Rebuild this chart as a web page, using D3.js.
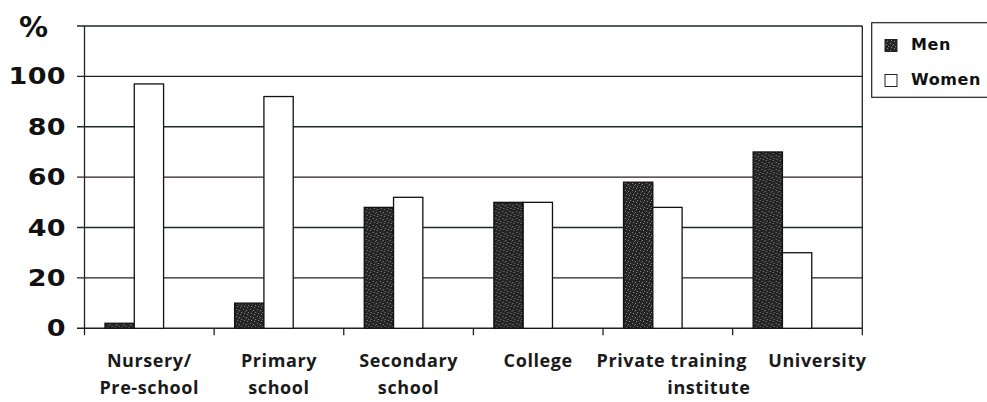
<!DOCTYPE html>
<html><head><meta charset="utf-8">
<script src="https://cdn.jsdelivr.net/npm/d3@7"></script>
<style>html,body{margin:0;padding:0;background:#fff;}svg{display:block;}</style>
</head><body>
<svg id="chart" width="987" height="402"></svg>
<script>
// ---- data ----
const categories = ["Nursery/Pre-school","Primary school","Secondary school","College","Private training institute","University"];
const categoryLines = [["Nursery/","Pre-school"],["Primary","school"],["Secondary","school"],["College"],["Private training","institute"],["University"]];
const seriesNames = ["Men","Women"];
const menValues = [2, 10, 48, 50, 58, 70];
const womenValues = [97, 92, 52, 50, 48, 30];
const yTicks = [0, 20, 40, 60, 80, 100, 120];
const yTickLabels = ["0","20","40","60","80","100","%"];

// ---- layout / style ----
const svg = d3.select("#chart");
const L = 84.5, R = 862.3, T = 26, B = 328.3;
const x0 = d3.scaleBand().domain(categories).range([L, R]).padding(0);
const bw = x0.bandwidth();
const x1 = d3.scaleBand().domain(seriesNames).range([0.158*bw, 0.158*bw + 0.452*bw]).padding(0);
const y = d3.scaleLinear().domain([0,120]).range([B, T]);
const gridColor = "#1d2a22";

// speckle pattern for Men bars
const defs = svg.append("defs");
const pat = defs.append("pattern").attr("id","speck").attr("patternUnits","userSpaceOnUse").attr("width",7).attr("height",7);
pat.append("rect").attr("width",7).attr("height",7).attr("fill","#242424");
[[1,1],[4,2],[2,5],[6,4],[5,6]].forEach(([a,b])=>pat.append("rect").attr("x",a).attr("y",b).attr("width",1).attr("height",1).attr("fill","#8a8a8a"));
pat.append("rect").attr("x",3).attr("y",3).attr("width",1).attr("height",1).attr("fill","#555");

// gridlines (with left ticks)
svg.append("g").selectAll("line").data(yTicks).join("line")
  .attr("x1", L-7.5).attr("x2", R).attr("y1", d=>y(d)).attr("y2", d=>y(d))
  .attr("stroke", (d,i)=> d===0 ? "#222" : (i%2 ? "#2a1e24" : gridColor)).attr("stroke-width",1.4);

// y axis line and right frame
svg.append("line").attr("x1",L).attr("x2",L).attr("y1",T).attr("y2",B+7).attr("stroke","#222").attr("stroke-width",1.3);
svg.append("line").attr("x1",R).attr("x2",R).attr("y1",T).attr("y2",B+7).attr("stroke","#222").attr("stroke-width",1.3);
// category ticks
svg.append("g").selectAll("line").data(categories.slice(1)).join("line")
  .attr("x1", d=>x0(d)).attr("x2", d=>x0(d)).attr("y1",B).attr("y2",B+7).attr("stroke","#222").attr("stroke-width",1.3);

// bars
const rows = categories.map((c,i)=>({cat:c, vals:[{s:"Men",v:menValues[i]},{s:"Women",v:womenValues[i]}]}));
const g = svg.append("g").selectAll("g").data(rows).join("g").attr("transform", d=>`translate(${x0(d.cat)},0)`);
g.selectAll("rect").data(d=>d.vals).join("rect")
  .attr("x", d=>x1(d.s)).attr("width", x1.bandwidth())
  .attr("y", d=>y(d.v)).attr("height", d=>B - y(d.v))
  .attr("fill", d=> d.s==="Men" ? "url(#speck)" : "#fff")
  .attr("stroke", "#111").attr("stroke-width", 1.3);

// y tick labels (horizontally widened)
svg.append("g").selectAll("text").data(yTicks.slice(0,-1)).join("text")
  .attr("transform", d=>`translate(66,${y(d)+8}) scale(1.2,1)`)
  .attr("text-anchor","end").attr("font-family","DejaVu Sans").attr("font-weight","bold")
  .attr("font-size",22.5).attr("letter-spacing",0.3).attr("fill","#111")
  .text((d,i)=>yTickLabels[i]);
svg.append("text").attr("x",19).attr("y",37).attr("font-family","DejaVu Sans").attr("font-weight","bold")
  .attr("font-size",29).attr("fill","#111").text(yTickLabels[yTickLabels.length-1]);

// category labels
const nudge = {"University":[20,0], "Private training":[4,0], "institute":[41,0]};
const lab = svg.append("g").attr("font-family","Open Sans").attr("font-weight","bold").attr("font-size",18).attr("fill","#1a1a1a").attr("text-anchor","middle").attr("letter-spacing",0.6);
categories.forEach((c,i)=>{
  categoryLines[i].forEach((t,j)=>{
    const n = nudge[t] || [0,0];
    lab.append("text").attr("x", x0(c)+bw/2+n[0]).attr("y", 367 + j*27 + n[1]).text(t);
  });
});

// legend
const lg = svg.append("g");
lg.append("rect").attr("x",871.7).attr("y",22.7).attr("width",130).attr("height",74.6).attr("fill","#fff").attr("stroke","#222").attr("stroke-width",1.2);
seriesNames.forEach((s,i)=>{
  lg.append("rect").attr("x",885).attr("y",39.5+i*35).attr("width",12).attr("height",12)
    .attr("fill", s==="Men" ? "url(#speck)" : "#fff").attr("stroke","#222").attr("stroke-width",1);
  lg.append("text").attr("x",911).attr("y",50+i*35).attr("font-family","DejaVu Sans").attr("font-weight","bold")
    .attr("font-size",16).attr("letter-spacing",0.6).attr("fill","#111").text(s);
});
</script>
</body></html>
